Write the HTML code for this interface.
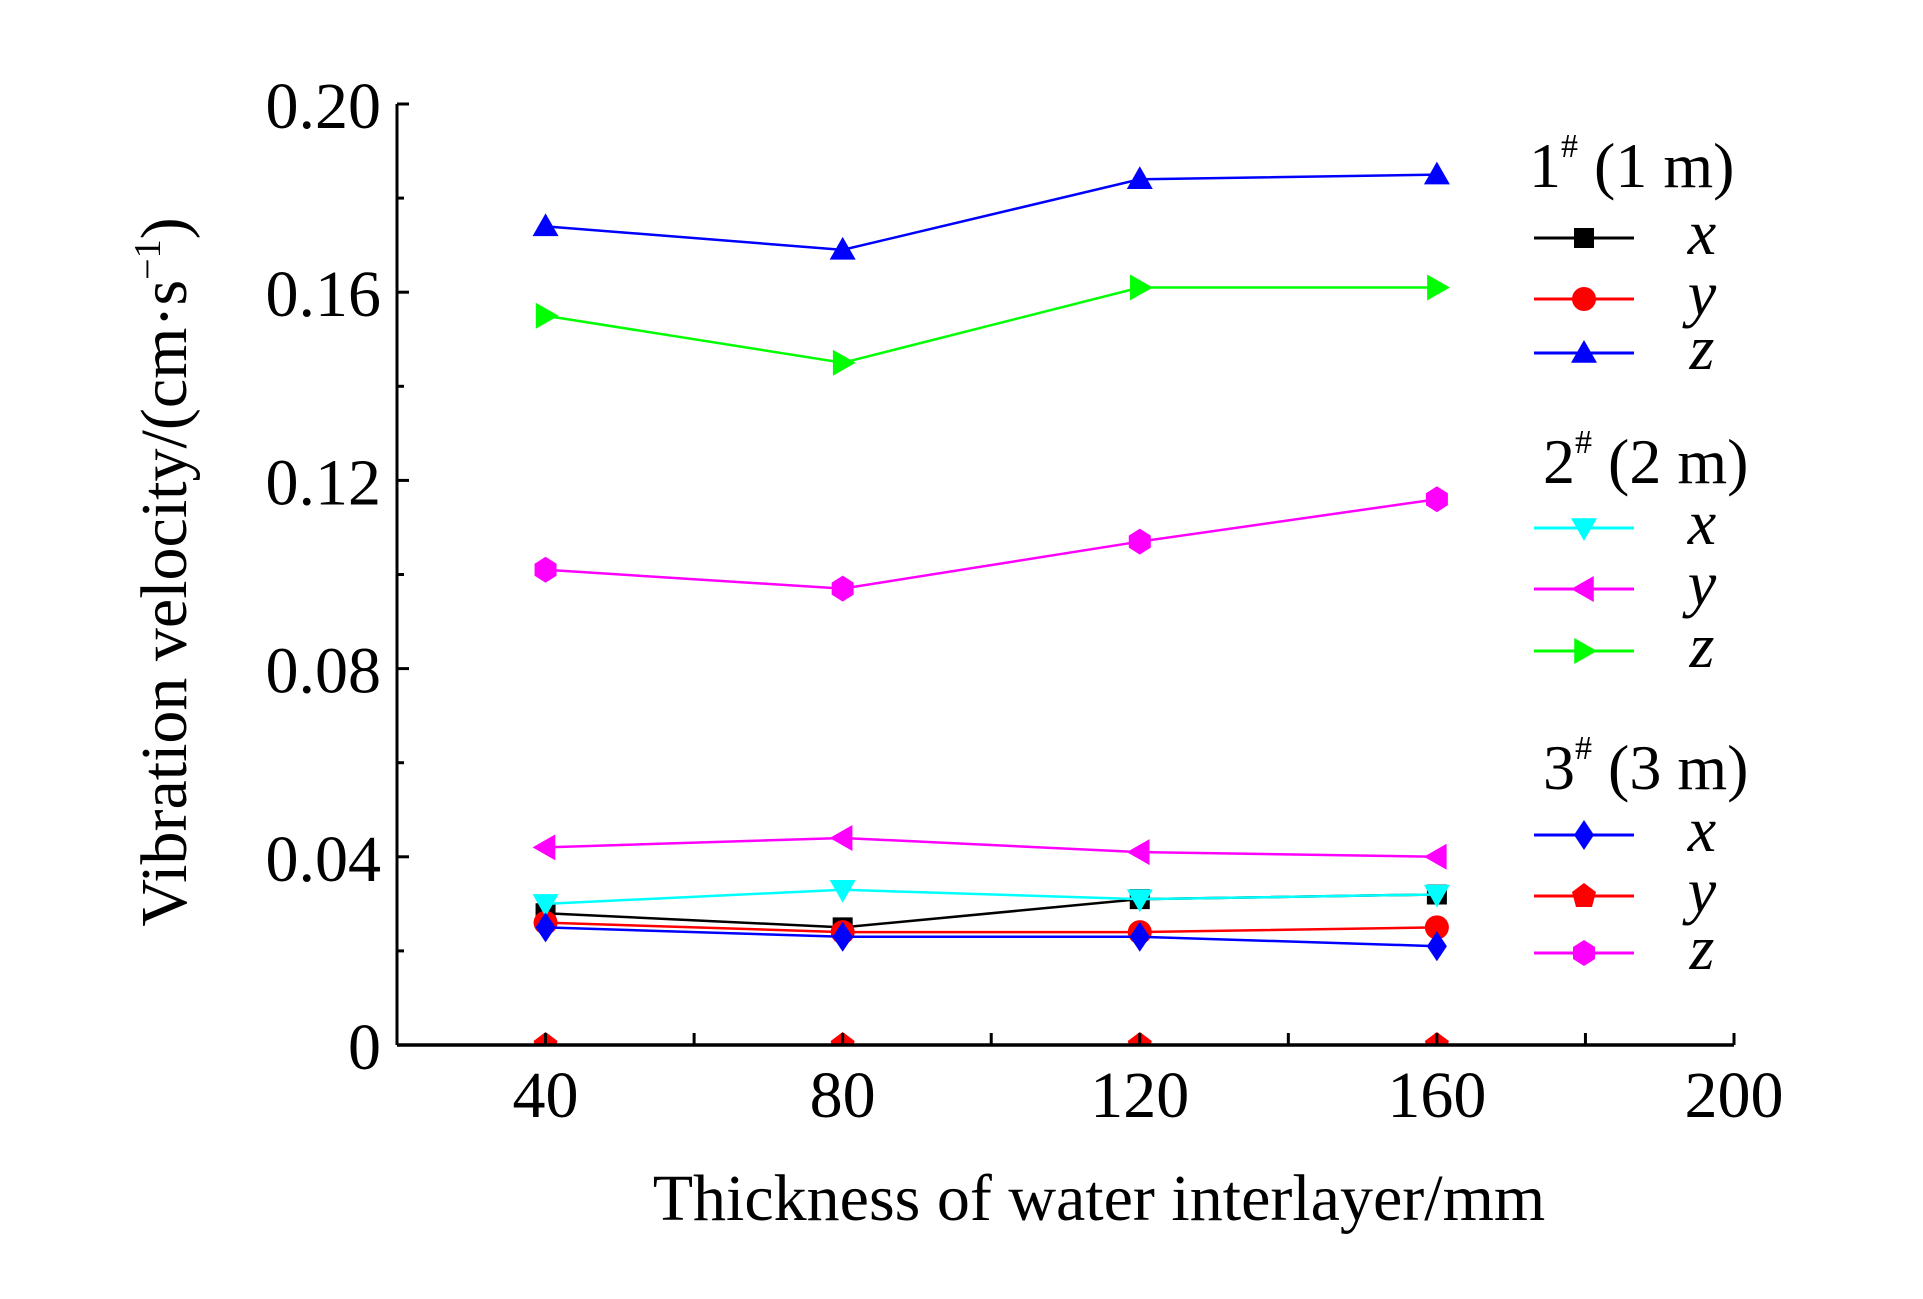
<!DOCTYPE html>
<html><head><meta charset="utf-8">
<style>
html,body{margin:0;padding:0;background:#fff;}
svg{display:block;font-family:"Liberation Serif",serif;}
</style></head>
<body>
<svg id="chart" width="1923" height="1299" viewBox="0 0 1923 1299" xmlns="http://www.w3.org/2000/svg">
<defs><clipPath id="plotclip"><rect x="397" y="86" width="1340" height="959"/></clipPath></defs>
<g id="series" clip-path="url(#plotclip)"></g>
<g id="axes"></g>
<g id="legend"></g>
<text x="1099" y="1220" font-size="66" text-anchor="middle">Thickness of water interlayer/mm</text>
<text transform="translate(186,572) rotate(-90)" font-size="66" text-anchor="middle">Vibration velocity/(cm·s<tspan font-size="38" dy="-26">−1</tspan><tspan dy="26">)</tspan></text>
</svg>
<script>
const xCats = [40, 80, 120, 160];
const xTicks = [40, 80, 120, 160, 200];
const yTicks = [0, 0.04, 0.08, 0.12, 0.16, 0.20];
const yTickLabels = ["0", "0.04", "0.08", "0.12", "0.16", "0.20"];
const s1x = [0.028, 0.025, 0.031, 0.032];
const s1y = [0.026, 0.024, 0.024, 0.025];
const s1z = [0.174, 0.169, 0.184, 0.185];
const s2x = [0.030, 0.033, 0.031, 0.032];
const s2y = [0.042, 0.044, 0.041, 0.040];
const s2z = [0.155, 0.145, 0.161, 0.161];
const s3x = [0.025, 0.023, 0.023, 0.021];
const s3y = [0, 0, 0, 0];
const s3z = [0.101, 0.097, 0.107, 0.116];

const NS = "http://www.w3.org/2000/svg";
const X0 = 397, X1 = 1734, Y0 = 1045, Y1 = 104;
const xs = v => X0 + (v - 20) / 180 * (X1 - X0);
const ys = v => Y0 - v / 0.2 * (Y0 - Y1);
function mk(tag, attrs, parent) {
  const e = document.createElementNS(NS, tag);
  for (const k in attrs) e.setAttribute(k, attrs[k]);
  parent.appendChild(e);
  return e;
}
const axes = document.getElementById('axes');
const line1 = mk('line', {x1: X0, y1: Y0, x2: X1, y2: Y0, stroke: '#000', 'stroke-width': 3.5}, axes);


const line2 = mk('line', {x1: X0, y1: Y0, x2: X0, y2: Y1, stroke: '#000', 'stroke-width': 3}, axes);


yTicks.forEach((v, i) => {
  const t = mk('line', {x1: X0, y1: ys(v), x2: X0 + 12, y2: ys(v), stroke: '#000', 'stroke-width': 3}, axes);
  
  
  if (i < yTicks.length - 1) {
    const m = mk('line', {x1: X0, y1: ys(v + 0.02), x2: X0 + 7, y2: ys(v + 0.02), stroke: '#000', 'stroke-width': 3}, axes);
    
    
  }
  const l = mk('text', {x: X0 - 16, y: ys(v) + 24, 'font-size': 66, 'text-anchor': 'end'}, axes);
  l.textContent = yTickLabels[i];
  
  
});
xTicks.forEach(v => {
  const t = mk('line', {x1: xs(v), y1: Y0, x2: xs(v), y2: Y0 - 12, stroke: '#000', 'stroke-width': 3}, axes);
  
  
  const m = mk('line', {x1: xs(v - 20), y1: Y0, x2: xs(v - 20), y2: Y0 - 12, stroke: '#000', 'stroke-width': 3}, axes);
  
  
  const l = mk('text', {x: xs(v), y: Y0 + 72, 'font-size': 66, 'text-anchor': 'middle'}, axes);
  l.textContent = v;
  
  
});

function marker(type, cx, cy, color, parent) {
  const r = 13;
  let d;
  if (type === 'square') d = `M${cx-10},${cy-10}h20v20h-20z`;
  else if (type === 'circle') return mk('circle', {cx, cy, r: 12, fill: color}, parent);
  else if (type === 'up') d = `M${cx},${cy-r}L${cx+r},${cy+r*0.75}L${cx-r},${cy+r*0.75}z`;
  else if (type === 'down') d = `M${cx},${cy+r}L${cx+r},${cy-r*0.75}L${cx-r},${cy-r*0.75}z`;
  else if (type === 'left') d = `M${cx-r},${cy}L${cx+r*0.75},${cy-r}L${cx+r*0.75},${cy+r}z`;
  else if (type === 'right') d = `M${cx+r},${cy}L${cx-r*0.75},${cy-r}L${cx-r*0.75},${cy+r}z`;
  else if (type === 'diamond') d = `M${cx},${cy-15}L${cx+10},${cy}L${cx},${cy+15}L${cx-10},${cy}z`;
  else if (type === 'pent') d = `M${cx},${cy-13}L${cx+12},${cy-4}L${cx+8},${cy+11}L${cx-8},${cy+11}L${cx-12},${cy-4}z`;
  else if (type === 'hex') d = `M${cx},${cy-13}L${cx+11},${cy-6}L${cx+11},${cy+6}L${cx},${cy+13}L${cx-11},${cy+6}L${cx-11},${cy-6}z`;
  return mk('path', {d, fill: color}, parent);
}

const seriesDefs = [
  {name: 's1-x', vals: s1x, color: '#000000', m: 'square'},
  {name: 's1-y', vals: s1y, color: '#ff0000', m: 'circle'},
  {name: 's1-z', vals: s1z, color: '#0000ff', m: 'up'},
  {name: 's2-x', vals: s2x, color: '#00ffff', m: 'down'},
  {name: 's2-y', vals: s2y, color: '#ff00ff', m: 'left'},
  {name: 's2-z', vals: s2z, color: '#00ff00', m: 'right'},
  {name: 's3-x', vals: s3x, color: '#0000ff', m: 'diamond'},
  {name: 's3-y', vals: s3y, color: '#ff0000', m: 'pent'},
  {name: 's3-z', vals: s3z, color: '#ff00ff', m: 'hex'}
];
const sg = document.getElementById('series');
seriesDefs.forEach(s => {
  const g = mk('g', {}, sg);
  
  
  const pts = s.vals.map((v, i) => xs(xCats[i]) + ',' + ys(v)).join(' ');
  const pl = mk('polyline', {points: pts, fill: 'none', stroke: s.color, 'stroke-width': 2.5}, g);
  
  
  s.vals.forEach((v, i) => {
    const p = marker(s.m, xs(xCats[i]), ys(v), s.color, g);
    
    
  });
});

const lg = document.getElementById('legend');
const headers = [
  {t: '1', sub: '(1 m)', x: 1529, y: 187},
  {t: '2', sub: '(2 m)', x: 1543, y: 483},
  {t: '3', sub: '(3 m)', x: 1543, y: 789}
];
headers.forEach(h => {
  const t = mk('text', {x: h.x, y: h.y, 'font-size': 64}, lg);
  t.innerHTML = h.t + '<tspan font-size="34" dy="-30">#</tspan><tspan dy="30"> ' + h.sub + '</tspan>';
  
  
});
const rowY = [238, 299, 353, 528, 589, 651, 835, 896, 953];
const letters = ['x', 'y', 'z', 'x', 'y', 'z', 'x', 'y', 'z'];
seriesDefs.forEach((s, i) => {
  const g = mk('g', {}, lg);
  
  
  mk('line', {x1: 1534, y1: rowY[i], x2: 1634, y2: rowY[i], stroke: s.color, 'stroke-width': 3}, g);
  marker(s.m, 1584, rowY[i], s.color, g);
  const t = mk('text', {x: 1702, y: rowY[i] + 16, 'font-size': 64, 'font-style': 'italic', 'text-anchor': 'middle'}, g);
  t.textContent = letters[i];
});
</script>
</body></html>
